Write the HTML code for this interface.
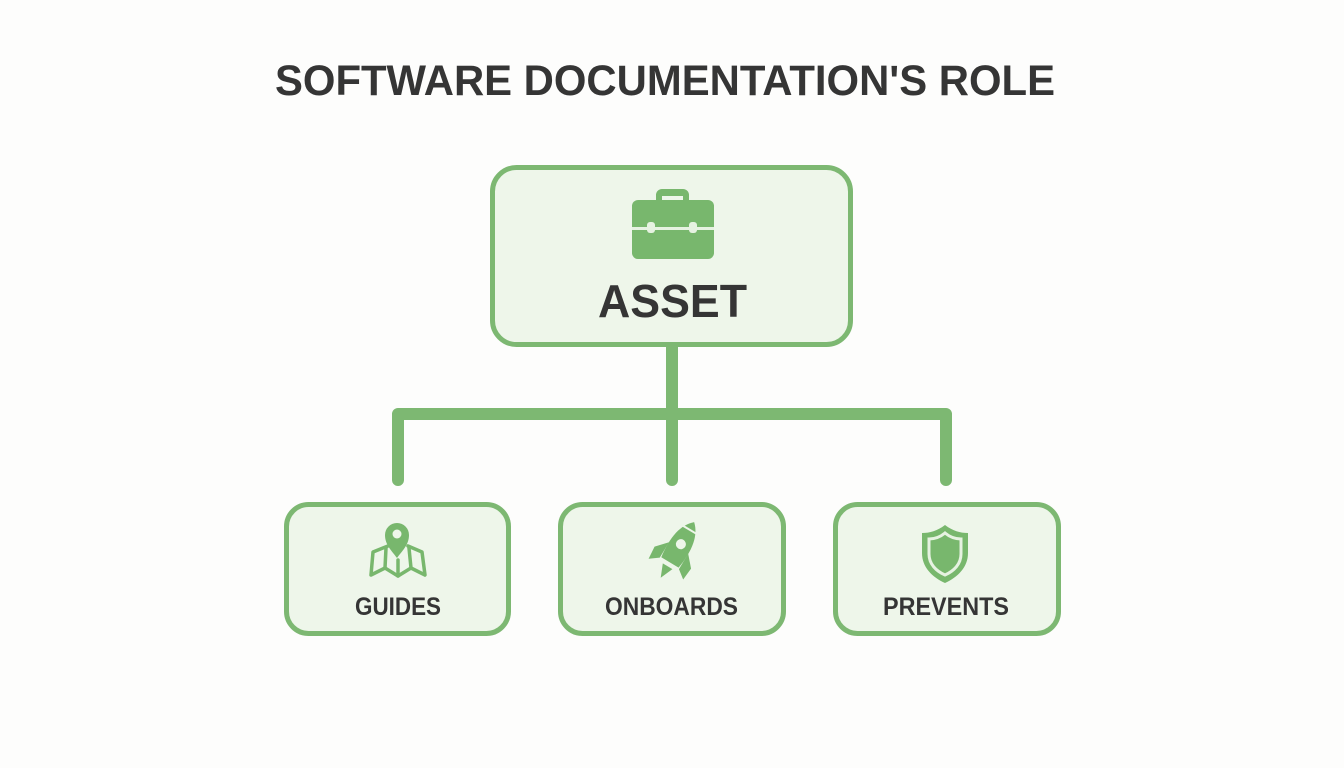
<!DOCTYPE html>
<html>
<head>
<meta charset="utf-8">
<style>
html,body{margin:0;padding:0;background:#fdfdfc;}
svg{display:block;}
text{font-family:"Liberation Sans",Arial,sans-serif;font-weight:bold;fill:#353535;}
</style>
</head>
<body>
<svg width="1344" height="768" viewBox="0 0 1344 768" xmlns="http://www.w3.org/2000/svg">
  <rect width="1344" height="768" fill="#fdfdfc"/>

  <!-- Title -->
  <text x="275" y="95" font-size="43" textLength="780" lengthAdjust="spacingAndGlyphs">SOFTWARE DOCUMENTATION'S ROLE</text>

  <!-- Connectors -->
  <g stroke="#7db872" stroke-width="12" fill="none" stroke-linecap="round" stroke-linejoin="round">
    <line x1="672" y1="345" x2="672" y2="414"/>
    <polyline points="398,480 398,414 946,414 946,480"/>
    <line x1="672" y1="414" x2="672" y2="480"/>
  </g>

  <!-- Top box -->
  <rect x="492.5" y="167.5" width="358" height="177" rx="24" fill="#eef6ea" stroke="#7db872" stroke-width="5"/>

  <!-- Briefcase -->
  <g fill="#78b76d">
    <path d="M656,201 V195 a6,6 0 0 1 6,-6 H683 a6,6 0 0 1 6,6 V201 H683 V196 H662 V201 Z"/>
    <rect x="632" y="200" width="82" height="59" rx="6"/>
  </g>
  <rect x="632" y="227" width="82" height="3" fill="#e6f2e1"/>
  <rect x="647" y="222" width="8" height="11" rx="3" fill="#e6f2e1"/>
  <rect x="689" y="222" width="8" height="11" rx="3" fill="#e6f2e1"/>

  <text x="598" y="317" font-size="46" textLength="149" lengthAdjust="spacingAndGlyphs">ASSET</text>

  <!-- Bottom boxes -->
  <rect x="286.5" y="504.5" width="222" height="129" rx="22" fill="#eef6ea" stroke="#7db872" stroke-width="5"/>
  <rect x="560.5" y="504.5" width="223" height="129" rx="22" fill="#eef6ea" stroke="#7db872" stroke-width="5"/>
  <rect x="835.5" y="504.5" width="223" height="129" rx="22" fill="#eef6ea" stroke="#7db872" stroke-width="5"/>

  <!-- Map icon -->
  <g fill="none" stroke="#78b76d" stroke-width="3.5" stroke-linejoin="round" stroke-linecap="round">
    <polyline points="388,546 373,552 371,575 385,568 398,576 411,568 425,575 422,552 408,546"/>
    <line x1="386" y1="548" x2="385" y2="568"/>
    <line x1="409" y1="548" x2="411" y2="568"/>
    <line x1="398" y1="560" x2="398" y2="576"/>
  </g>
  <path d="M397,558 C392,551 385,545 385,535 a12,12 0 0 1 24,0 C409,545 402,551 397,558 Z" fill="#78b76d"/>
  <circle cx="397" cy="534" r="4.5" fill="#eef6ea"/>

  <!-- Rocket icon -->
  <g transform="translate(678,549) rotate(31) scale(1.12)" fill="#78b76d">
    <path d="M0,-28 C9,-20 12,-6 9,14 L-9,14 C-12,-6 -9,-20 0,-28 Z"/>
    <path d="M-10,-1 L-19,9 L-18,21 L-10,15 Z"/>
    <path d="M10,-1 L19,9 L18,21 L10,15 Z"/>
    <path d="M-5,18 L0,30 L5,18 Z"/>
    <rect x="-8" y="-21" width="16" height="1.8" fill="#eef6ea"/>
    <circle cx="0" cy="-5" r="4.5" fill="#eef6ea"/>
  </g>

  <!-- Shield icon -->
  <path d="M945,525 C953,531 960,533 968,533 L968,553 C968,567 958,577 945,583 C932,577 922,567 922,553 L922,533 C930,533 937,531 945,525 Z" fill="#78b76d"/>
  <path d="M945,533 C951,538 956,539 961,539 L961,554 C961,564 954,571 945,575 C936,571 929,564 929,554 L929,539 C934,539 939,538 945,533 Z" fill="#78b76d" stroke="#e6f2e1" stroke-width="3"/>

  <!-- Labels -->
  <text x="355" y="615" font-size="25" textLength="86" lengthAdjust="spacingAndGlyphs">GUIDES</text>
  <text x="605" y="615" font-size="25" textLength="133" lengthAdjust="spacingAndGlyphs">ONBOARDS</text>
  <text x="883" y="615" font-size="25" textLength="126" lengthAdjust="spacingAndGlyphs">PREVENTS</text>
</svg>
</body>
</html>
